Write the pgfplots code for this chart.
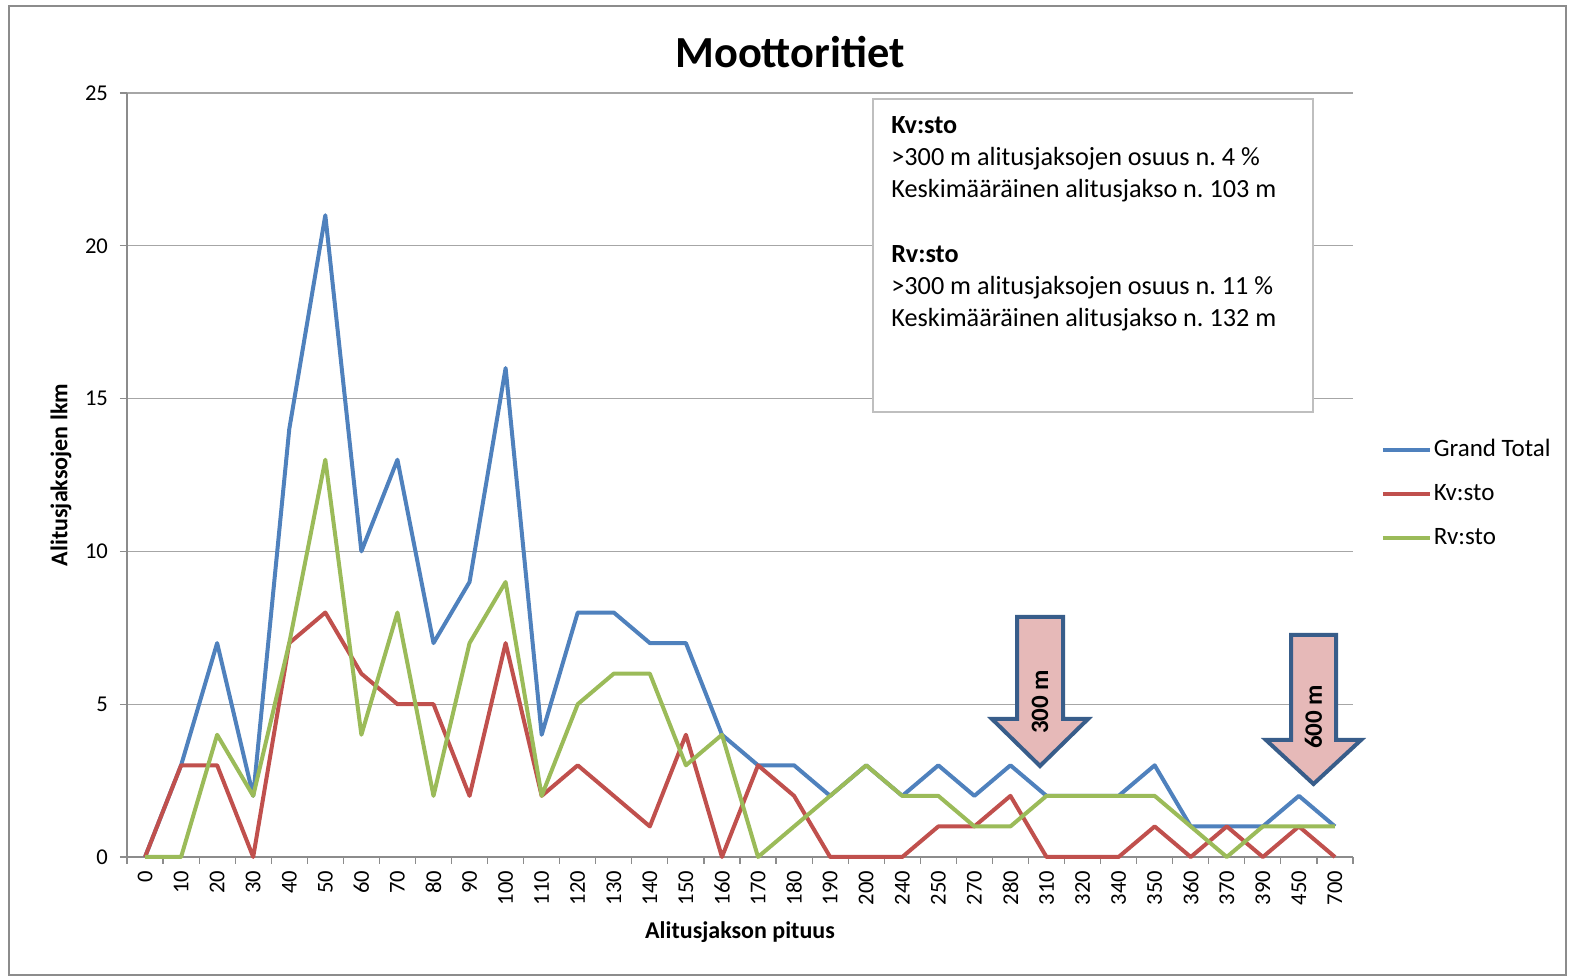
\documentclass[border=0pt]{standalone}
\usepackage{pgfplots}
\pgfplotsset{compat=1.18}
\usepackage{pgfplotstable}
\usepackage{fontspec}
\setmainfont{Carlito}
\frenchspacing
\definecolor{cblue}{HTML}{4F81BD}
\definecolor{cred}{HTML}{C0504D}
\definecolor{cgreen}{HTML}{9BBB59}
\definecolor{afill}{HTML}{E6B9B8}
\definecolor{aedge}{HTML}{385D8A}
\pgfplotstableread{
idx gt kv rv
0 0 0 0
1 3 3 0
2 7 3 4
3 2 0 2
4 14 7 7
5 21 8 13
6 10 6 4
7 13 5 8
8 7 5 2
9 9 2 7
10 16 7 9
11 4 2 2
12 8 3 5
13 8 2 6
14 7 1 6
15 7 4 3
16 4 0 4
17 3 3 0
18 3 2 1
19 2 0 2
20 3 0 3
21 2 0 2
22 3 1 2
23 2 1 1
24 3 2 1
25 2 0 2
26 2 0 2
27 2 0 2
28 3 1 2
29 1 0 1
30 1 1 0
31 1 0 1
32 2 1 1
33 1 0 1
}\data
\begin{document}
\begin{tikzpicture}
\path[use as bounding box] (0,0) rectangle (785pt,489.5pt);
\begin{scope}[shift={(0,489.5pt)},x=0.5pt,y=-0.5pt]
\draw[black!45, line width=0.9pt] (9,6) rectangle (1566,975);
\end{scope}
\begin{axis}[
  at={(63.5pt,61pt)}, anchor=south west,
  scale only axis, width=613pt, height=382pt,
  xmin=-0.5, xmax=33.5, ymin=0, ymax=25,
  ytick={0,5,...,25},
  xtick={0,...,33},
  xticklabels={0,10,20,30,40,50,60,70,80,90,100,110,120,130,140,150,160,170,180,190,200,240,250,270,280,310,320,340,350,360,370,390,450,700},
  minor xtick={-0.5,0.5,...,33.5},
  axis x line*=bottom, axis y line*=left,
  axis line style={-, draw=black!45, line width=0.6pt},
  tick align=outside,
  major tick length=3.5pt, minor tick length=3.5pt,
  major x tick style={draw=none},
  minor x tick style={draw=black!45, line width=0.6pt},
  ytick style={draw=black!45, line width=0.6pt},
  ymajorgrids, grid style={black!35, line width=0.6pt},
  tick label style={font=\fontsize{11.3}{13}\selectfont},
  xticklabel style={rotate=90, anchor=east},
  yticklabel style={xshift=-2.5pt},
  /pgf/number format/assume math mode=true,
  xlabel={\bfseries Alitusjakson pituus},
  ylabel={\bfseries Alitusjaksojen lkm},
  label style={font=\fontsize{12}{14}\selectfont},
  xlabel style={at={(axis description cs:0.5,-0.0982)}, anchor=center},
  ylabel style={at={(axis description cs:-0.0538,0.5)}, anchor=center},
  clip=false,
  legend style={at={(axis description cs:1.0175,0.5563)}, anchor=north west, draw=none, fill=none,
    font=\fontsize{12.5}{14}\selectfont, row sep=8pt,
    nodes={text height=9pt, text depth=3pt, inner sep=1pt}},
  legend cell align=left,
  legend image code/.code={\draw[#1, line width=2pt] (0pt,0pt) -- (23.5pt,0pt);},
]
\addplot[cblue, line width=2pt, line join=round] table[x=idx,y=gt]{\data};
\addlegendentry{Grand Total}
\addplot[cred, line width=2pt, line join=round] table[x=idx,y=kv]{\data};
\addlegendentry{Kv:sto}
\addplot[cgreen, line width=2pt, line join=round] table[x=idx,y=rv]{\data};
\addlegendentry{Rv:sto}
\end{axis}
\begin{scope}[shift={(0,489.5pt)},x=0.5pt,y=-0.5pt]
\node[font=\fontsize{22.2}{26}\selectfont\bfseries] at (790,52) {Moottoritiet};
\draw[black!25, line width=1pt, fill=white] (873,99) rectangle (1313,412);
\begin{scope}[every node/.style={anchor=base west, inner sep=0pt, font=\fontsize{13.1}{15}\selectfont}]
\node at (891,134) {\bfseries Kv:sto};
\node at (891,166) {>300 m alitusjaksojen osuus n. 4 \%};
\node at (891,198) {Keskimääräinen alitusjakso n. 103 m};
\node at (891,263) {\bfseries Rv:sto};
\node at (891,295) {>300 m alitusjaksojen osuus n. 11 \%};
\node at (891,327) {Keskimääräinen alitusjakso n. 132 m};
\end{scope}
\draw[aedge, fill=afill, line width=2pt, line join=miter]
  (1017,617) -- (1063,617) -- (1063,719) -- (1088,719) -- (1040,766) -- (992,719) -- (1017,719) -- cycle;
\node[rotate=90, font=\fontsize{12.5}{14}\selectfont\bfseries] at (1040,702) {300 m};
\draw[aedge, fill=afill, line width=2pt, line join=miter]
  (1291,635) -- (1336,635) -- (1336,740) -- (1361,740) -- (1313.5,784) -- (1266,740) -- (1291,740) -- cycle;
\node[rotate=90, font=\fontsize{12.5}{14}\selectfont\bfseries] at (1313.5,717) {600 m};
\end{scope}
\end{tikzpicture}
\end{document}
